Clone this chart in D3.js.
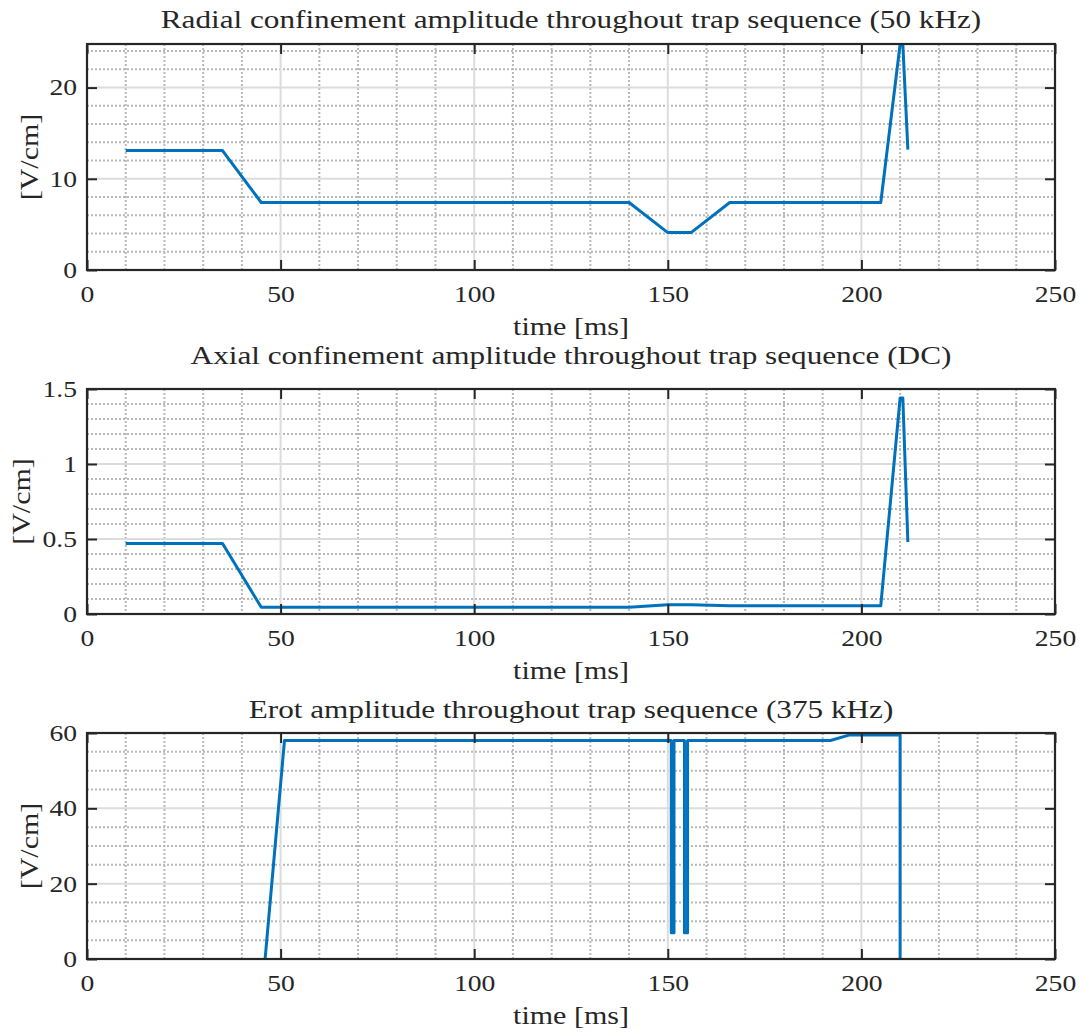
<!DOCTYPE html>
<html>
<head>
<meta charset="utf-8">
<script src="https://cdn.jsdelivr.net/npm/d3@7"></script>
<style>
  html, body { margin: 0; padding: 0; background: #fff; }
  svg { display: block; }
  text { font-family: "Liberation Serif", "DejaVu Serif", serif; fill: #262626; }
</style>
</head>
<body>
<svg id="fig" width="1079" height="1034"></svg>
<script>
// ---- data ----
const timeTicks = [0, 50, 100, 150, 200, 250];

const radialTime = [10, 35, 45, 140, 150, 156, 166, 205, 210, 210.7, 212];
const radialAmp  = [13.1, 13.1, 7.4, 7.4, 4.1, 4.1, 7.4, 7.4, 24.75, 24.75, 13.2];
const radialTicks = [0, 10, 20];

const axialTime = [10, 35, 45, 140, 150, 156, 166, 205, 210, 210.7, 212];
const axialAmp  = [0.47, 0.47, 0.045, 0.045, 0.062, 0.062, 0.055, 0.055, 1.44, 1.44, 0.48];
const axialTicks = [0, 0.5, 1, 1.5];

const erotTime = [46, 51, 150.9, 150.9, 151.6, 151.6, 154.3, 154.3, 155.1, 155.1, 192, 197, 210, 210];
const erotAmp  = [0, 58, 58, 7, 7, 58, 58, 7, 7, 58, 58, 59.5, 59.5, 0];
const erotTicks = [0, 20, 40, 60];

const titles = [
  'Radial confinement amplitude throughout trap sequence (50 kHz)',
  'Axial confinement amplitude throughout trap sequence (DC)',
  'Erot amplitude throughout trap sequence (375 kHz)'
];

// ---- layout ----
const left = 87, right = 1055;
const panels = [
  { time: radialTime, amp: radialAmp, ticks: radialTicks, ymax: 24.78, minorStep: 2,   top: 44,  bottom: 270, titleY: 28,  ylabX: 29, title: titles[0] },
  { time: axialTime,  amp: axialAmp,  ticks: axialTicks,  ymax: 1.5,   minorStep: 0.1, top: 389, bottom: 614, titleY: 364, ylabX: 21, title: titles[1] },
  { time: erotTime,   amp: erotAmp,   ticks: erotTicks,   ymax: 60,    minorStep: 5,   top: 733, bottom: 959, titleY: 718, ylabX: 29, title: titles[2] }
];

const axisColor = '#262626';
const lineColor = '#0072BD';
// the original uses a wider (LaTeX) face; widen the serif to match
const widen = 1.2;

function stretch(sel) {
  const w = sel.node().getComputedTextLength();
  sel.attr('textLength', w * widen).attr('lengthAdjust', 'spacingAndGlyphs');
}

const svg = d3.select('#fig');
const x = d3.scaleLinear().domain([0, 250]).range([left, right]);

panels.forEach((p, i) => {
  const y = d3.scaleLinear().domain([0, p.ymax]).range([p.bottom, p.top]);
  const g = svg.append('g');

  // minor grid (dotted)
  const xMinor = d3.range(0, 251, 10).filter(v => v % 50 !== 0);
  const yMinor = d3.range(0, p.ymax + 1e-9, p.minorStep)
    .map(v => +v.toFixed(4))
    .filter(v => v > 0 && !p.ticks.some(t => Math.abs(t - v) < 1e-6));

  g.append('g').selectAll('line').data(xMinor).enter().append('line')
    .attr('x1', d => x(d)).attr('x2', d => x(d))
    .attr('y1', p.top).attr('y2', p.bottom)
    .attr('stroke', '#b8b8b8').attr('stroke-width', 2).attr('stroke-dasharray', '2,2');
  g.append('g').selectAll('line').data(yMinor).enter().append('line')
    .attr('x1', left).attr('x2', right)
    .attr('y1', d => y(d)).attr('y2', d => y(d))
    .attr('stroke', '#b8b8b8').attr('stroke-width', 2).attr('stroke-dasharray', '2,2');

  // major grid (solid light)
  g.append('g').selectAll('line').data(timeTicks.slice(1, -1)).enter().append('line')
    .attr('x1', d => x(d)).attr('x2', d => x(d))
    .attr('y1', p.top).attr('y2', p.bottom)
    .attr('stroke', '#dcdcdc').attr('stroke-width', 2);
  g.append('g').selectAll('line').data(p.ticks.filter(t => t > 0 && t < p.ymax)).enter().append('line')
    .attr('x1', left).attr('x2', right)
    .attr('y1', d => y(d)).attr('y2', d => y(d))
    .attr('stroke', '#dcdcdc').attr('stroke-width', 2);

  // data line, clipped to the axes box
  const clipId = 'clip' + i;
  svg.append('clipPath').attr('id', clipId).append('rect')
    .attr('x', left).attr('y', p.top).attr('width', right - left).attr('height', p.bottom - p.top);
  const pts = p.time.map((t, k) => [t, p.amp[k]]);
  g.append('path')
    .attr('clip-path', `url(#${clipId})`)
    .attr('d', d3.line().x(d => x(d[0])).y(d => y(d[1]))(pts))
    .attr('fill', 'none').attr('stroke', lineColor).attr('stroke-width', 3)
    .attr('stroke-linejoin', 'round');

  // axes: inward ticks on all four sides
  const fmt = d => d3.format('~g')(d);
  const bottomAxis = g.append('g').attr('transform', `translate(0,${p.bottom})`)
    .call(d3.axisBottom(x).tickValues(timeTicks).tickSizeInner(-10).tickSizeOuter(0).tickPadding(16).tickFormat(fmt));
  const topAxis = g.append('g').attr('transform', `translate(0,${p.top})`)
    .call(d3.axisTop(x).tickValues(timeTicks).tickSizeInner(-10).tickSizeOuter(0).tickFormat(''));
  const leftAxis = g.append('g').attr('transform', `translate(${left},0)`)
    .call(d3.axisLeft(y).tickValues(p.ticks).tickSizeInner(-10).tickSizeOuter(0).tickPadding(10).tickFormat(fmt));
  const rightAxis = g.append('g').attr('transform', `translate(${right},0)`)
    .call(d3.axisRight(y).tickValues(p.ticks).tickSizeInner(-10).tickSizeOuter(0).tickFormat(''));

  [bottomAxis, topAxis, leftAxis, rightAxis].forEach(a => {
    a.select('.domain').remove();
    a.selectAll('line').attr('stroke', axisColor).attr('stroke-width', 2);
    a.selectAll('text').attr('fill', axisColor).attr('font-size', 23)
      .attr('font-family', '"Liberation Serif", serif');
  });
  bottomAxis.selectAll('text').each(function () { stretch(d3.select(this)); });
  leftAxis.selectAll('text').each(function () { stretch(d3.select(this)); });

  // box
  g.append('rect')
    .attr('x', left).attr('y', p.top).attr('width', right - left).attr('height', p.bottom - p.top)
    .attr('fill', 'none').attr('stroke', axisColor).attr('stroke-width', 2.2);

  // title and labels
  g.append('text')
    .attr('x', (left + right) / 2).attr('y', p.titleY)
    .attr('text-anchor', 'middle').attr('font-size', 26)
    .text(p.title)
    .call(stretch);

  g.append('text')
    .attr('x', (left + right) / 2).attr('y', p.bottom + 65)
    .attr('text-anchor', 'middle').attr('font-size', 25)
    .text('time [ms]')
    .call(stretch);

  g.append('text')
    .attr('transform', `translate(${p.ylabX},${(p.top + p.bottom) / 2}) rotate(-90)`)
    .attr('text-anchor', 'middle').attr('dy', '0.35em').attr('font-size', 25)
    .text('[V/cm]')
    .call(stretch);
});
</script>
</body>
</html>
